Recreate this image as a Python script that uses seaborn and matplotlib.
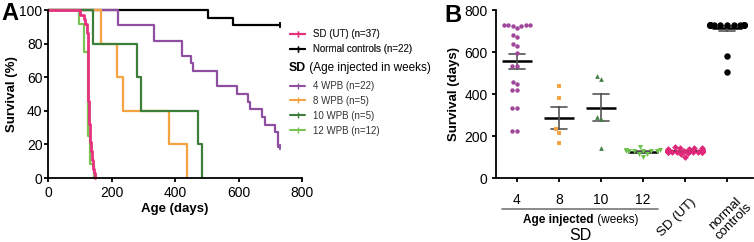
import pandas as pd
import seaborn as sns
import matplotlib.pyplot as plt
from matplotlib.lines import Line2D

# survival (days) per group: deaths and animals censored at the end of study
groups = ['4 WPB', '8 WPB', '10 WPB', '12 WPB', 'SD (UT)', 'Normal controls']
wpb4_deaths = [222, 222, 335, 335, 421, 421, 450, 458, 533, 533, 594, 630, 636,
               673, 683, 715, 725, 725]
wpb4_censored = [730, 730, 730, 730]
wpb8_deaths = [167, 216, 235, 382, 439]
wpb10_deaths = [143, 279, 292, 471, 486]
wpb12_deaths = [99, 113, 113, 127, 127, 127, 127, 127, 127, 132, 132, 146]
sd_ut_deaths = [100, 112, 118, 123, 124, 125, 125, 125, 125, 125, 126, 126, 126,
                126, 126, 127, 127, 127, 127, 127, 128, 129, 129, 130, 130, 131,
                131, 132, 132, 134, 136, 138, 140, 141, 143, 145, 148]
normal_deaths = [505, 582]
normal_censored = [730] * 20

deaths = [wpb4_deaths, wpb8_deaths, wpb10_deaths, wpb12_deaths, sd_ut_deaths, normal_deaths]
censored = [wpb4_censored, [], [], [], [], normal_censored]
legend_labels = ['4 WPB (n=22)', '8 WPB (n=5)', '10 WPB (n=5)', '12 WPB (n=12)',
                 'SD (UT) (n=37)', 'Normal controls (n=22)']
tick_labels_b = ['4', '8', '10', '12', 'SD (UT)', 'normal\ncontrols']

# cores
cores_a = ['#8E4FA3', '#F5A243', '#3D7E3B', '#7BC453', '#E6317E', '#000000']
cores_b = ['#A0479C', '#F2A444', '#3F7F45', '#6DC24B', '#E0287A', '#000000']
marcadores = ['o', 's', '^', 'v', 'D', 'o']
tamanhos = [3.2, 3.4, 3.4, 3.6, 3.4, 4.6]


def km_curve(d, c):
    tempos = sorted(set(d + c))
    at_risk = len(d) + len(c)
    s = 100.0
    t_out, s_out = [0], [100.0]
    for t in tempos:
        nd = d.count(t)
        if nd:
            s *= 1 - nd / at_risk
        at_risk -= nd + c.count(t)
        t_out.append(t)
        s_out.append(s)
    return t_out, s_out


sns.set_theme(style='ticks')
plt.rcParams['font.family'] = ['Liberation Sans', 'DejaVu Sans']
plt.rcParams.update({
    'axes.linewidth': 1.3, 'axes.edgecolor': 'black',
    'xtick.major.width': 1.3, 'ytick.major.width': 1.3,
    'xtick.major.size': 3, 'ytick.major.size': 3,
    'xtick.color': 'black', 'ytick.color': 'black',
    'text.color': 'black', 'axes.labelcolor': 'black',
})

fig = plt.figure(figsize=(7.54, 2.42), dpi=100)
W, H = 754, 242
axA = fig.add_axes([48 / W, 1 - 178 / H, (302 - 48) / W, (178 - 10) / H])
axB = fig.add_axes([496 / W, 1 - 178 / H, (753 - 496) / W, (178 - 10) / H])

# ---------------- painel A: Kaplan-Meier ----------------
ordem_desenho = [5, 0, 1, 2, 3, 4]
for i in ordem_desenho:
    t, s = km_curve(deaths[i], censored[i])
    lw = 2.0 if i == 4 else 1.6
    sns.lineplot(x=t, y=s, drawstyle='steps-post', color=cores_a[i], lw=lw,
                 estimator=None, sort=False, ax=axA, clip_on=False)
    if censored[i]:
        axA.plot([censored[i][0]], [s[-1]], marker='|', ms=5, mew=1.3,
                 color=cores_a[i], clip_on=False)

axA.set_xlim(0, 800)
axA.set_ylim(0, 100)
axA.set_xticks([0, 200, 400, 600, 800])
axA.set_yticks([0, 20, 40, 60, 80, 100])
axA.tick_params(axis='both', labelsize=10)
axA.tick_params(axis='y', pad=1)
axA.tick_params(axis='x', pad=3)
axA.set_xlabel('Age (days)', fontsize=9.5, fontweight='bold', labelpad=2)
axA.set_ylabel('Survival (%)', fontsize=9.5, fontweight='bold', labelpad=1)
sns.despine(ax=axA)


# legendas
def handle(c):
    return Line2D([], [], color=c, lw=1.5, marker='|', ms=4, mew=1)


leg1 = fig.legend([handle(cores_a[4]), handle(cores_a[5])], legend_labels[4:],
                  loc='upper left', bbox_to_anchor=(290 / W, 1 - 29 / H),
                  frameon=False, fontsize=7, handlelength=1.55, handletextpad=0.8,
                  borderpad=0, borderaxespad=0, labelspacing=0.55)
leg2 = fig.legend([handle(c) for c in cores_a[:4]], legend_labels[:4],
                  loc='upper left', bbox_to_anchor=(290 / W, 1 - 81 / H),
                  frameon=False, fontsize=7, handlelength=1.55, handletextpad=0.8,
                  borderpad=0, borderaxespad=0, labelspacing=0.5)
for leg in (leg1, leg2):
    for txt in leg.get_texts():
        txt.set_color('#333333')
fig.add_artist(leg1)
t_sd = fig.text(289 / W, 1 - 68 / H, 'SD', fontsize=8.8, fontweight='bold', va='center')
axA.annotate(' (Age injected in weeks)', xy=(1, 0), xycoords=t_sd,
             fontsize=8.5, va='bottom', annotation_clip=False)

# ---------------- painel B: dispersao ----------------
linhas = []
for g, d, c in zip(groups, deaths, censored):
    for v in d + c:
        linhas.append((g, v))
df = pd.DataFrame(linhas, columns=['group', 'days'])

for g, cor, mk, sz in zip(groups, cores_b, marcadores, tamanhos):
    sns.swarmplot(data=df[df['group'] == g], x='group', y='days', order=groups,
                  color=cor, marker=mk, size=sz, linewidth=0, warn_thresh=1, ax=axB)

sns.pointplot(data=df, x='group', y='days', order=groups, errorbar='se',
              capsize=0.36, linestyle='none', marker='_', markersize=21,
              markeredgewidth=1.8, color='black',
              err_kws={'color': '#555555', 'linewidth': 1.2}, ax=axB)

axB.set_xlim(-0.5, 5.62)
axB.set_ylim(0, 800)
axB.set_yticks([0, 200, 400, 600, 800])
axB.set_xticks(range(6))
axB.set_xticklabels(tick_labels_b[:4] + ['', ''])
axB.tick_params(axis='x', labelsize=10, pad=8)
axB.tick_params(axis='y', labelsize=10, pad=3)
axB.set_xlabel('')
axB.set_ylabel('Survival (days)', fontsize=9.5, fontweight='bold', labelpad=3)
sns.despine(ax=axB)

trans = axB.get_xaxis_transform()
# rotulos inclinados
axB.text(3.81, -0.235, tick_labels_b[4], transform=trans, rotation=45,
         rotation_mode='anchor', ha='center', va='center', fontsize=9.5)
axB.text(5.07, -0.235, tick_labels_b[5], transform=trans, rotation=45,
         rotation_mode='anchor', ha='center', va='center', fontsize=9.5,
         multialignment='center', linespacing=1.0)

axB.plot([-0.36, 3.36], [-0.185, -0.185], transform=trans, color='#777777',
         lw=1.2, clip_on=False)
axB.text(1.83, -0.25, 'Age injected', transform=trans, ha='right', va='center',
         fontsize=8.5, fontweight='bold')
axB.text(1.83, -0.25, ' (weeks)', transform=trans, ha='left', va='center',
         fontsize=8.5)
axB.text(1.5, -0.34, 'SD', transform=trans, ha='center', va='center', fontsize=11.5)

# letras dos paineis
fig.text(1 / W, 1 - 14 / H, 'A', fontsize=17, fontweight='bold', va='center')
fig.text(444 / W, 1 - 15 / H, 'B', fontsize=17, fontweight='bold', va='center')

plt.savefig('out.png', dpi=100)
